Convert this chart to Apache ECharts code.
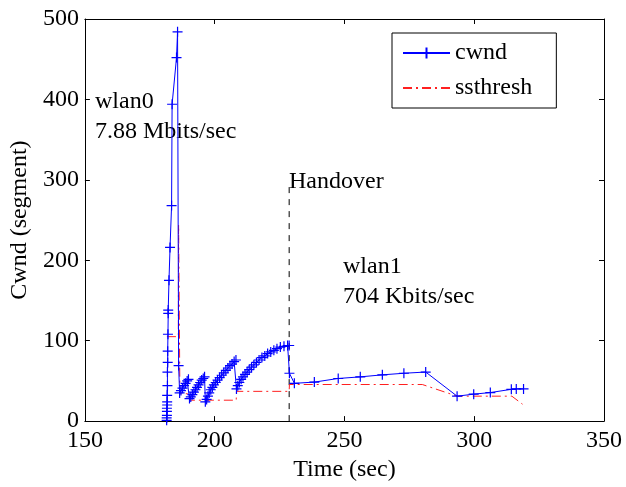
<!DOCTYPE html>
<html>
<head>
<meta charset="utf-8">
<title>cwnd / ssthresh during handover</title>
<script src="https://cdn.jsdelivr.net/npm/echarts@6/dist/echarts.min.js"></script>
<style>
  html, body { margin: 0; padding: 0; background: #fff; }
  #chart { width: 626px; height: 487px; }
</style>
</head>
<body>
<div id="chart"></div>
<script>
// Congestion window samples (time in s, window in segments)
const cwndTime = [
  // slow start on wlan0
  181.5, 181.5, 181.6, 181.6, 181.6, 181.7, 181.7, 181.7, 181.8, 181.8, 181.9, 181.9,
  182.0, 182.1, 182.1, 182.4, 182.8, 183.4, 183.6, 185.3, 185.7,
  // loss, recovery
  186.1, 186.5,
  // first tooth
  187.0, 187.6, 188.2, 188.8, 189.4, 189.9,
  // second tooth
  190.3, 190.8, 191.4, 192.0, 192.6, 193.2, 193.8, 194.4, 195.0, 195.6, 196.1,
  // third tooth
  196.4, 196.9, 197.4, 197.9, 198.5, 199.1, 199.7, 200.4, 201.1, 201.9, 202.7,
  203.5, 204.3, 205.1, 205.9, 206.7, 207.5, 208.2,
  // fourth tooth
  208.4, 208.9, 209.5, 210.2, 210.9, 211.7, 212.5, 213.3, 214.2, 215.1, 216.1,
  217.1, 218.2, 219.3, 220.4, 221.6, 222.8, 224.0, 225.3, 226.7, 228.1, 228.7,
  // after the handover to wlan1
  228.8, 230.7, 238.4, 247.6, 256.1, 264.6, 272.9, 281.3,
  293.4, 299.8, 306.2, 314.3, 316.2, 319.0
];
const cwndValue = [
  1, 4, 7, 12, 16, 20, 24, 32, 44, 61, 73, 87,
  108, 134, 138, 175, 216, 268, 394, 452, 484,
  69, 35,
  38, 41, 44, 47, 50, 52,
  28, 30, 33, 36, 39, 42, 45, 48, 51, 53, 55,
  24, 27, 31, 35, 39, 42, 45, 48, 51, 54, 57,
  60, 63, 66, 69, 71, 74, 76,
  40, 44, 48, 52, 55, 58, 61, 64, 67, 70, 73,
  76, 79, 81, 84, 86, 88, 90, 92, 93, 94, 94,
  59.5, 47, 48.5, 53, 55, 57.5, 59.5, 61,
  31, 33.5, 35.5, 39.5, 40, 40
];

// Slow start threshold
const ssthreshTime  = [181.6, 186.0, 186.1, 186.5, 186.6, 190.3, 190.5, 208.3, 208.4, 228.7, 228.8, 280.0, 293.4, 314.5, 318.6];
const ssthreshValue = [105, 105, 244, 244, 34, 34, 26, 26, 37, 37, 45.5, 45.5, 31, 31, 21];

// Handover instant
const handoverTime = [228.7, 228.7];
const handoverValue = [0, 298];

// Axis ticks
const xTicks = { min: 150, max: 350, step: 50 };
const yTicks = { min: 0, max: 500, step: 100 };

const pairs = (xs, ys) => xs.map((x, i) => [x, ys[i]]);

const FONT = 'Liberation Serif';
const plusPath = 'path://M0,5L10,5M5,0L5,10';

const baseAxis = {
  splitLine: { show: false },
  axisLine: { show: true, onZero: false, lineStyle: { color: '#000', width: 1 } },
  axisTick: { show: true, inside: true, length: 5, lineStyle: { color: '#000', width: 1 } }
};

const chart = echarts.init(document.getElementById('chart'), null, { renderer: 'canvas' });

chart.setOption({
  animation: false,
  backgroundColor: '#fff',
  textStyle: { fontFamily: FONT, color: '#000' },
  grid: { left: 83, right: 22, top: 19, bottom: 59, containLabel: false },
  legend: {
    data: ['cwnd', 'ssthresh'],
    orient: 'vertical',
    left: 392,
    top: 33,
    padding: [8, 24, 8, 10],
    itemGap: 11,
    itemWidth: 47,
    itemHeight: 14,
    backgroundColor: '#fff',
    borderColor: '#000',
    borderWidth: 1,
    borderRadius: 0,
    textStyle: { fontFamily: FONT, fontSize: 24, color: '#000', padding: [0, 0, 0, 0] }
  },
  xAxis: [
    Object.assign({}, baseAxis, {
      type: 'value', position: 'bottom',
      min: xTicks.min, max: xTicks.max, interval: xTicks.step,
      name: 'Time (sec)', nameLocation: 'middle', nameGap: 28,
      nameTextStyle: { fontFamily: FONT, fontSize: 24, color: '#000' },
      axisLabel: { fontFamily: FONT, fontSize: 24, color: '#000', margin: 8 }
    }),
    Object.assign({}, baseAxis, {
      type: 'value', position: 'top',
      min: xTicks.min, max: xTicks.max, interval: xTicks.step,
      axisLabel: { show: false }
    })
  ],
  yAxis: [
    Object.assign({}, baseAxis, {
      type: 'value', position: 'left',
      min: yTicks.min, max: yTicks.max, interval: yTicks.step,
      name: 'Cwnd (segment)', nameLocation: 'middle', nameGap: 44,
      nameTextStyle: { fontFamily: FONT, fontSize: 24, color: '#000' },
      axisLabel: { fontFamily: FONT, fontSize: 24, color: '#000', margin: 6 }
    }),
    Object.assign({}, baseAxis, {
      type: 'value', position: 'right',
      min: yTicks.min, max: yTicks.max, interval: yTicks.step,
      axisLabel: { show: false }
    })
  ],
  series: [
    {
      name: 'ssthresh',
      type: 'line',
      data: pairs(ssthreshTime, ssthreshValue),
      showSymbol: false,
      symbol: 'circle',
      symbolSize: 0,
      lineStyle: { color: '#ff2020', width: 1, type: [9, 4, 2, 4] },
      itemStyle: { color: '#ff2020', opacity: 0 },
      z: 2
    },
    {
      name: 'cwnd',
      type: 'line',
      data: pairs(cwndTime, cwndValue),
      symbol: plusPath,
      symbolSize: 10,
      showSymbol: true,
      showAllSymbol: true,
      lineStyle: { color: '#0000ff', width: 1 },
      itemStyle: { color: '#0000ff', borderColor: '#0000ff', borderWidth: 1.2 },
      z: 3
    },
    {
      name: 'handover',
      type: 'line',
      data: pairs(handoverTime, handoverValue),
      showSymbol: false,
      symbol: 'none',
      lineStyle: { color: '#000', width: 1, type: [6, 6] },
      z: 1
    }
  ],
  graphic: [
    { type: 'text', left: 95, top: 90, style: { text: 'wlan0', font: '24px "Liberation Serif"', fill: '#000' } },
    { type: 'text', left: 95, top: 120, style: { text: '7.88 Mbits/sec', font: '24px "Liberation Serif"', fill: '#000' } },
    { type: 'text', left: 289, top: 170, style: { text: 'Handover', font: '24px "Liberation Serif"', fill: '#000' } },
    { type: 'text', left: 343, top: 255, style: { text: 'wlan1', font: '24px "Liberation Serif"', fill: '#000' } },
    { type: 'text', left: 343, top: 285, style: { text: '704 Kbits/sec', font: '24px "Liberation Serif"', fill: '#000' } }
  ]
});
</script>
</body>
</html>
